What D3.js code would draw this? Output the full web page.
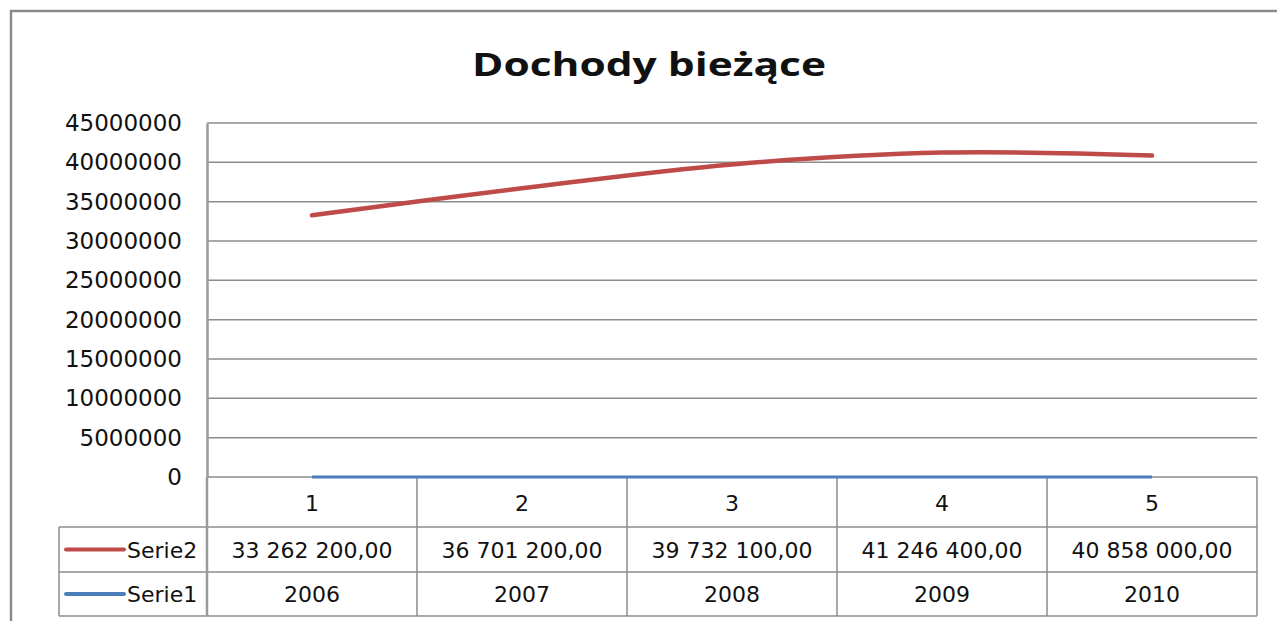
<!DOCTYPE html>
<html>
<head>
<meta charset="utf-8">
<script src="https://cdn.jsdelivr.net/npm/d3@7"></script>
<style>
  body { margin: 0; background: #fff; overflow: hidden; }
  text { font-family: "DejaVu Sans", sans-serif; fill: #111; }
</style>
</head>
<body>
<svg id="chart" width="1277" height="621"></svg>
<script>
const title = "Dochody bieżące";
const categories = [1, 2, 3, 4, 5];
const serie2 = [33262200, 36701200, 39732100, 41246400, 40858000];
const serie1 = [2006, 2007, 2008, 2009, 2010];
const yTicks = [0, 5000000, 10000000, 15000000, 20000000, 25000000, 30000000, 35000000, 40000000, 45000000];

const seriesList = [
  {name: "Serie2", values: serie2, color: "#be4b48", fmt: "table"},
  {name: "Serie1", values: serie1, color: "#4a7ebb", fmt: "plain"}
];

const plot = {left: 207, right: 1257, top: 123, bottom: 477};
const rowH = [50, 45, 44];
const legendLeft = 59;
const grid = "#8c8c8c";
const cellFont = "22px";

const locale = d3.formatLocale({decimal: ",", thousands: " ", grouping: [3], currency: ["", ""]});
const tableFmt = locale.format(",.2f");

const svg = d3.select("#chart");

// outer chart frame: only left and top edges are inside the picture
svg.append("path")
  .attr("d", "M11,621 V11 H1277")
  .attr("fill", "none")
  .attr("stroke", "#8a8a8a")
  .attr("stroke-width", 2.5);

svg.append("text")
  .attr("x", 472).attr("y", 76)
  .attr("textLength", 354)
  .attr("lengthAdjust", "spacingAndGlyphs")
  .style("font-family", "'Open Sans', sans-serif")
  .style("font-size", "33px")
  .style("font-weight", "bold")
  .text(title);

let x = d3.scaleBand()
  .domain(categories)
  .range([plot.left, plot.right]);

let y = d3.scaleLinear()
  .domain([0, 45000000])
  .range([plot.bottom, plot.top]);

// gridlines
svg.append("g")
  .selectAll("line")
  .data(yTicks)
  .join("line")
  .attr("x1", plot.left).attr("x2", plot.right)
  .attr("y1", d => y(d)).attr("y2", d => y(d))
  .attr("stroke", grid)
  .attr("stroke-width", 1.5);

// y axis
let yAxis = svg.append("g")
  .attr("transform", `translate(${plot.left},0)`)
  .call(d3.axisLeft(y).tickValues(yTicks).tickSize(0).tickPadding(25).tickFormat(d3.format("d")));
yAxis.select(".domain").attr("stroke", "#9a9a9a").attr("stroke-width", 2.5);
yAxis.selectAll("text")
  .style("font-family", "DejaVu Sans, sans-serif")
  .style("font-size", "23px")
  .attr("fill", "#111");

// table
const tableTop = plot.bottom;
const rowY = [tableTop, tableTop + rowH[0], tableTop + rowH[0] + rowH[1], tableTop + rowH[0] + rowH[1] + rowH[2]];
let table = svg.append("g");

table.selectAll(".hline")
  .data([1, 2, 3])
  .join("line")
  .attr("x1", legendLeft).attr("x2", plot.right)
  .attr("y1", i => rowY[i]).attr("y2", i => rowY[i])
  .attr("stroke", grid).attr("stroke-width", 1.5);

table.selectAll(".vline")
  .data(categories.slice(1))
  .join("line")
  .attr("x1", d => x(d)).attr("x2", d => x(d))
  .attr("y1", rowY[0]).attr("y2", rowY[3])
  .attr("stroke", grid).attr("stroke-width", 1.5);

table.append("line")
  .attr("x1", plot.right).attr("x2", plot.right)
  .attr("y1", rowY[0]).attr("y2", rowY[3])
  .attr("stroke", grid).attr("stroke-width", 1.5);
table.append("line")
  .attr("x1", plot.left).attr("x2", plot.left)
  .attr("y1", rowY[0]).attr("y2", rowY[3])
  .attr("stroke", "#9a9a9a").attr("stroke-width", 2.5);
table.append("line")
  .attr("x1", legendLeft).attr("x2", legendLeft)
  .attr("y1", rowY[1]).attr("y2", rowY[3])
  .attr("stroke", grid).attr("stroke-width", 1.5);

table.selectAll(".cat")
  .data(categories)
  .join("text")
  .attr("x", d => x(d) + x.bandwidth() / 2)
  .attr("y", rowY[0] + 34)
  .attr("text-anchor", "middle")
  .style("font-size", cellFont)
  .text(d => d);

seriesList.forEach((s, i) => {
  let top = rowY[i + 1], h = rowY[i + 2] - top;
  let midY = top + h / 2;
  table.append("line")
    .attr("x1", 66).attr("x2", 124)
    .attr("y1", midY).attr("y2", midY)
    .attr("stroke", s.color).attr("stroke-width", 4)
    .attr("stroke-linecap", "round");
  table.append("text")
    .attr("x", 127).attr("y", midY + 8)
    .style("font-size", cellFont)
    .text(s.name);
  table.selectAll(null)
    .data(s.values)
    .join("text")
    .attr("x", (d, j) => x(categories[j]) + x.bandwidth() / 2)
    .attr("y", midY + 8)
    .attr("text-anchor", "middle")
    .style("font-size", cellFont)
    .text(d => s.fmt === "table" ? tableFmt(d) : d);
});

// lines
let line = d3.line()
  .x((d, j) => x(categories[j]) + x.bandwidth() / 2)
  .y(d => y(d))
  .curve(d3.curveCatmullRom);

svg.append("path")
  .datum(serie1)
  .attr("d", line)
  .attr("fill", "none")
  .attr("stroke", seriesList[1].color)
  .attr("stroke-width", 3);

svg.append("path")
  .datum(serie2)
  .attr("d", line)
  .attr("fill", "none")
  .attr("stroke", seriesList[0].color)
  .attr("stroke-width", 4.5)
  .attr("stroke-linecap", "round");
</script>
</body>
</html>
